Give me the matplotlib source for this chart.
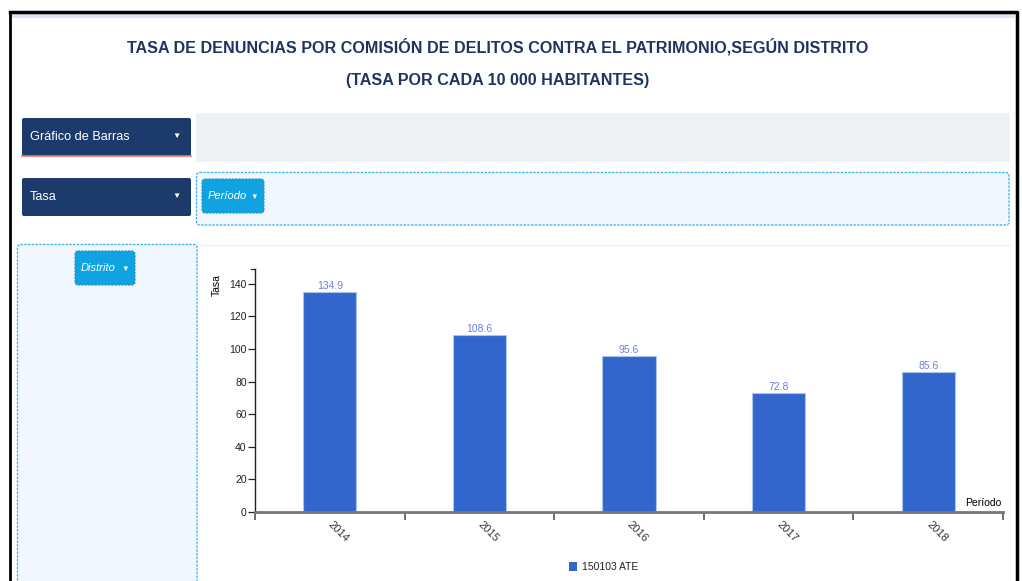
import matplotlib
matplotlib.use("Agg")
import matplotlib.pyplot as plt
from matplotlib.patches import FancyBboxPatch, Rectangle

years = ["2014", "2015", "2016", "2017", "2018"]
tasa = [134.9, 108.6, 95.6, 72.8, 85.6]
y_ticks = [0, 20, 40, 60, 80, 100, 120, 140]
serie = "150103 ATE"

title1 = "TASA DE DENUNCIAS POR COMISIÓN DE DELITOS CONTRA EL PATRIMONIO,SEGÚN DISTRITO"
title2 = "(TASA POR CADA 10 000 HABITANTES)"

W, H = 1022, 581
SANS = ["Liberation Sans", "DejaVu Sans"]
NAVY = "#1d3a6c"
BTN = "#0fa3e1"
BAR = "#3366cc"

fig = plt.figure(figsize=(W / 100, H / 100), dpi=100)
fig.patch.set_facecolor("white")

# background axes in pixel coordinates for the page elements
bg = fig.add_axes([0, 0, 1, 1])
bg.set_xlim(0, W)
bg.set_ylim(H, 0)
bg.axis("off")


def box(x0, y0, x1, y1, fc, ec="none", ls="-", lw=1.0, r=2, z=1):
    p = FancyBboxPatch((x0, y0), x1 - x0, y1 - y0, boxstyle=f"round,pad=0,rounding_size={r}",
                       fc=fc, ec=ec, ls=ls, lw=lw, zorder=z)
    bg.add_patch(p)


# frame of the screenshot
bg.add_patch(Rectangle((11, 13), 1004, 5, fc="#e1e4f5", ec="none", zorder=1))
bg.plot([9.5, 1016.5, 1016.5], [12, 12, H], color="black", lw=2.5, zorder=5)
bg.plot([9.5, 9.5], [12, H], color="black", lw=2.0, zorder=5)

bg.text(498, 47, title1, ha="center", va="center", fontsize=11.6, fontweight="bold",
        color="#1f3560", family=SANS)
bg.text(498, 81, title2, ha="center", va="center", fontsize=11.6, fontweight="bold",
        color="#1f3560", family=SANS)

# chart type selector
box(22, 118, 191, 156, NAVY)
bg.plot([22, 191], [155.5, 155.5], color="#e8746a", lw=1.2, zorder=2)
bg.text(30, 137, "Gráfico de Barras", ha="left", va="center", fontsize=9.2, color="white", family=SANS)
bg.text(176, 136, "▼", ha="center", va="center", fontsize=6, color="white", family=SANS)
bg.add_patch(Rectangle((196, 113), 814, 49, fc="#eef2f5", ec="none", zorder=1))

# measure selector
box(22, 178, 191, 216, NAVY)
bg.text(30, 197, "Tasa", ha="left", va="center", fontsize=9.2, color="white", family=SANS)
bg.text(176, 196, "▼", ha="center", va="center", fontsize=6, color="white", family=SANS)
box(196.5, 172.5, 1009, 225, "#f0f7fe", ec="#3aaee2", ls=(0, (2, 1)), lw=0.9, r=3)
box(202, 179, 264, 213, BTN, ec="#2b8fc8", ls=(0, (2, 1)), lw=0.8, r=3, z=2)
bg.text(208, 196, "Período", ha="left", va="center", fontsize=8, color="white",
        style="italic", family=SANS, zorder=3)
bg.text(254, 197, "▼", ha="center", va="center", fontsize=5.5, color="white", family=SANS, zorder=3)

# left filter panel
box(17.5, 244.5, 197, 600, "#f0f7fe", ec="#3aaee2", ls=(0, (2, 1)), lw=0.9, r=3)
box(75, 251, 135, 285, BTN, ec="#2b8fc8", ls=(0, (2, 1)), lw=0.8, r=3, z=2)
bg.text(81, 268, "Distrito", ha="left", va="center", fontsize=8, color="white",
        style="italic", family=SANS, zorder=3)
bg.text(125, 269, "▼", ha="center", va="center", fontsize=5.5, color="white", family=SANS, zorder=3)
bg.plot([198, 1010], [244.5, 244.5], color="#f0f0f0", lw=1, zorder=1)

# chart axes
x0, x1, yb, yt = 255, 1003, 512, 269
ax = fig.add_axes([x0 / W, (H - yb) / H, (x1 - x0) / W, (yb - yt) / H])
ax.patch.set_alpha(0)
pos = list(range(len(years)))
bars = ax.bar(pos, tasa, width=0.355, color=BAR, edgecolor="#aac4ee", linewidth=0.8, zorder=2)
for b, v in zip(bars, tasa):
    ax.text(b.get_x() + b.get_width() / 2, v + 0.8, f"{v}", ha="center", va="bottom",
            fontsize=7.5, color="#6a7fe0", family=SANS)
ax.set_xlim(-0.5, len(years) - 0.5)
ax.set_ylim(0, 149)

for s in ["top", "right"]:
    ax.spines[s].set_visible(False)
ax.spines["left"].set_color("#222222")
ax.spines["left"].set_linewidth(1.0)
ax.spines["bottom"].set_color("#777777")
ax.spines["bottom"].set_linewidth(2.0)

ax.set_yticks(y_ticks)
ax.set_yticklabels([str(t) for t in y_ticks], fontsize=7.5, color="#222222", family=SANS)
ax.tick_params(axis="y", length=5, width=0.9, color="#222222", pad=1)

ax.set_xticks([p - 0.5 for p in pos] + [len(years) - 0.5])
ax.set_xticklabels([])
ax.tick_params(axis="x", which="major", length=6, width=1.2, color="#555555")
ax.set_xticks(pos, minor=True)
ax.set_xticklabels(years, minor=True, rotation=-45, ha="left", va="center",
                   rotation_mode="anchor", fontsize=8, color="#333333", family=SANS)
ax.tick_params(axis="x", which="minor", length=0, pad=8)
ax.plot([-0.5, -0.53], [149, 149], color="#222222", lw=0.9, clip_on=False)

ax.text(0.998, 0.018, "Período", transform=ax.transAxes, ha="right", va="bottom",
        fontsize=7.5, color="black", family=SANS)
bg.text(217, 285, "Tasa", rotation=90, ha="center", va="center", fontsize=7.5,
        color="black", family=SANS)

# legend
bg.add_patch(Rectangle((569, 562), 8, 9, fc=BAR, ec="none", zorder=2))
bg.text(582, 567, serie, ha="left", va="center", fontsize=7.5, color="#222222", family=SANS)

fig.savefig("out.png", dpi=100)
